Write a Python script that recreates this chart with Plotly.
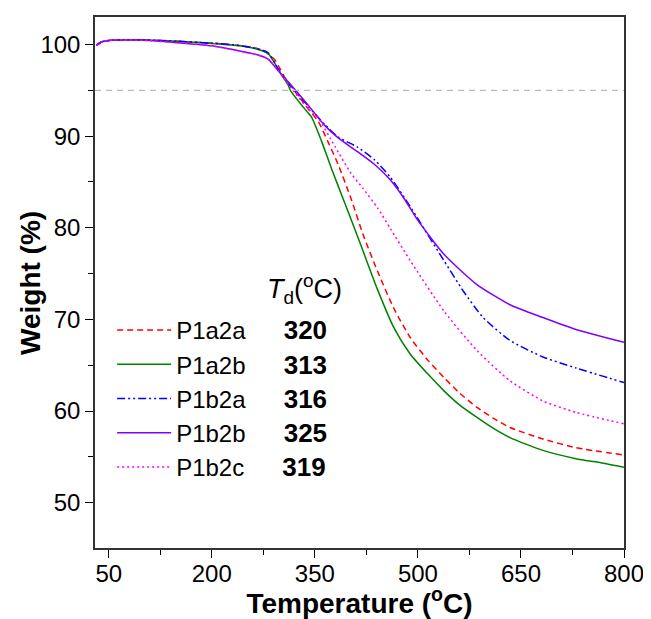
import plotly.graph_objects as go

# ---------------- data ----------------
names = ["P1a2a", "P1a2b", "P1b2a", "P1b2b", "P1b2c"]
td_values = ["320", "313", "316", "325", "319"]

t_p1a2a = [32, 40, 60, 100, 150, 200, 240, 265, 278, 292, 299, 310, 326, 340, 355, 369, 384, 403, 420, 441, 465, 489, 515, 538, 560, 586, 610, 634, 682, 730, 800]
w_p1a2a = [99.9, 100.3, 100.5, 100.5, 100.35, 100.15, 99.9, 99.6, 99.2, 98.3, 97.4, 95.9, 94.4, 93.0, 91.6, 89.4, 86.9, 83.1, 79.3, 75.3, 71.2, 68.0, 65.5, 63.65, 62.0, 60.4, 59.2, 58.2, 56.95, 56.0, 55.2]

t_p1a2b = [32, 40, 60, 100, 150, 200, 240, 265, 282, 292, 297, 311, 315, 335, 345, 360, 374, 391, 415, 441, 465, 489, 515, 538, 560, 586, 610, 634, 682, 730, 770, 800]
w_p1a2b = [99.9, 100.3, 100.5, 100.5, 100.35, 100.1, 99.85, 99.5, 99.0, 97.9, 97.2, 95.6, 94.9, 93.0, 92.1, 89.4, 86.5, 83.2, 78.5, 73.3, 69.1, 66.2, 64.0, 62.2, 60.7, 59.3, 58.1, 57.1, 55.7, 54.8, 54.3, 53.85]

t_p1b2a = [32, 40, 60, 100, 150, 200, 240, 265, 282, 297, 315, 340, 364, 384, 412, 437, 460, 482, 499, 538, 566, 595, 634, 682, 730, 800]
w_p1b2a = [99.9, 100.3, 100.5, 100.5, 100.35, 100.15, 99.9, 99.55, 99.1, 97.3, 95.5, 93.3, 91.3, 89.9, 88.8, 87.4, 85.5, 83.1, 81.1, 76.4, 73.1, 70.2, 67.7, 65.9, 64.7, 63.1]

t_p1b2b = [32, 40, 60, 100, 150, 200, 240, 265, 282, 297, 315, 340, 364, 384, 412, 437, 460, 482, 500, 538, 586, 634, 682, 730, 800]
w_p1b2b = [99.9, 100.3, 100.5, 100.45, 100.2, 99.85, 99.3, 98.9, 98.4, 97.1, 95.6, 93.4, 91.2, 89.8, 88.3, 86.9, 85.2, 82.95, 80.8, 77.1, 73.8, 71.6, 70.2, 68.9, 67.5]

t_p1b2c = [32, 40, 60, 100, 150, 200, 240, 265, 282, 297, 315, 340, 355, 379, 403, 420, 441, 460, 489, 538, 586, 634, 682, 730, 800]
w_p1b2c = [99.9, 100.3, 100.5, 100.45, 100.2, 99.85, 99.3, 98.9, 98.4, 97.1, 95.3, 93.0, 91.95, 88.9, 85.9, 84.3, 82.2, 79.9, 76.4, 70.9, 66.6, 63.3, 61.1, 59.85, 58.6]

threshold = 95

series_t = [t_p1a2a, t_p1a2b, t_p1b2a, t_p1b2b, t_p1b2c]
series_w = [w_p1a2a, w_p1a2b, w_p1b2a, w_p1b2b, w_p1b2c]

# ---------------- styles ----------------
colors = ["#ff0000", "#008000", "#0000ff", "#8000ff", "#ff00ff"]
dashes = ["6px,4px", "solid", "8px,3px,2px,3px,2px,3px", "solid", "2px,3px"]
FONT = "Arial, 'Liberation Sans', sans-serif"
NB = "\u00a0"
THIN = "\u2009"

fig = go.Figure()
for name, td, t, w, c, d in zip(names, td_values, series_t, series_w, colors, dashes):
    fig.add_trace(go.Scatter(
        x=t, y=w, mode="lines",
        name=name + NB * 5 + THIN + "<b><span style='font-size:26px'>" + td + "</span></b>",
        line=dict(color=c, width=1.5, dash=d, shape="spline", smoothing=0.6),
    ))

fig.add_hline(y=threshold, line=dict(color="#bbbbbb", width=1.2, dash="6px,5px"))

# legend header
fig.add_annotation(
    xref="paper", yref="paper", x=0.396, y=0.488, xanchor="center", yanchor="middle",
    text="<i>T</i><sub>d</sub>(<sup>o</sup>C)", showarrow=False,
    font=dict(family=FONT, size=27, color="black"),
)
# y-axis title
fig.add_annotation(
    xref="paper", yref="paper", x=-0.122, y=0.5, xanchor="center", yanchor="middle",
    text="<b>Weight (%)</b>", textangle=-90, showarrow=False,
    font=dict(family=FONT, size=28, color="black"),
)

# The page body adds an 8px margin, so the figure is sized to fill the rest.
fig.update_layout(
    width=643, height=611,
    margin=dict(l=87, r=22, t=7, b=71),
    paper_bgcolor="white", plot_bgcolor="white",
    font=dict(family=FONT, color="black"),
    showlegend=True,
    legend=dict(
        x=0.0324, y=0.452, xanchor="left", yanchor="top",
        bgcolor="rgba(0,0,0,0)", font=dict(family=FONT, size=24, color="black"),
        itemwidth=54, tracegroupgap=0,
    ),
    xaxis=dict(
        range=[30, 800], tickmode="linear", tick0=50, dtick=150,
        ticks="outside", ticklen=8, tickwidth=1.2, tickcolor="black",
        minor=dict(ticks="outside", ticklen=5, tick0=50, dtick=75, tickcolor="black", tickwidth=1.2),
        showline=True, linecolor="#333333", linewidth=1.5, mirror=True,
        showgrid=False, zeroline=False, ticklabelstandoff=-5,
        tickfont=dict(family=FONT, size=24, color="black"),
        title=dict(text="<b>Temperature (<sup>o</sup>C)</b>", font=dict(family=FONT, size=28, color="black"), standoff=5),
    ),
    yaxis=dict(
        range=[45.05, 103], tickmode="linear", tick0=0, dtick=10,
        ticks="outside", ticklen=8, tickwidth=1.2, tickcolor="black",
        minor=dict(ticks="outside", ticklen=5, tick0=0, dtick=5, tickcolor="black", tickwidth=1.2),
        showline=True, linecolor="#333333", linewidth=1.5, mirror=True,
        showgrid=False, zeroline=False,
        tickfont=dict(family=FONT, size=24, color="black"),
    ),
)

fig.write_html("out.html")
